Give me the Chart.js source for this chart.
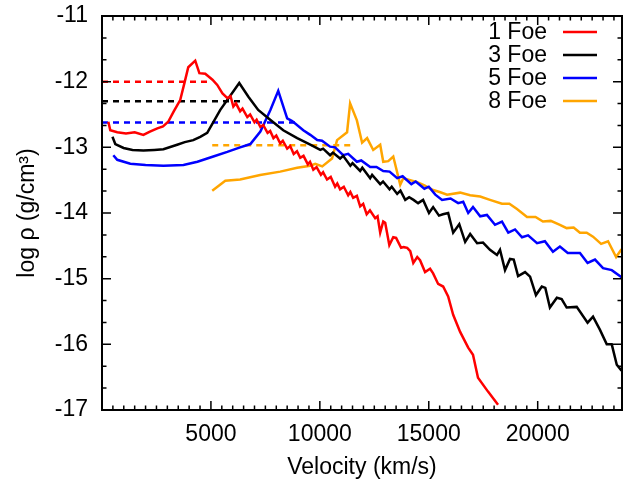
<!DOCTYPE html>
<html>
<head>
<meta charset="utf-8">
<script src="https://cdn.jsdelivr.net/npm/chart.js@4/dist/chart.umd.min.js"></script>
<style>
  html, body { margin: 0; padding: 0; background: #fff; }
  canvas { display: block; }
</style>
</head>
<body>
<canvas id="myChart" width="625" height="483"></canvas>
<script>
// tick labels
const xTicks = [5000, 10000, 15000, 20000];
const yTicks = [-11, -12, -13, -14, -15, -16, -17];

const labels = ["1 Foe", "3 Foe", "5 Foe", "8 Foe"];
const colors = ["#ff0000", "#000000", "#0000ff", "#ffa500"];

// 1 Foe
const vel1 = [290, 380, 700, 1100, 1500, 1900, 2200, 2540, 2800, 3040, 3300, 3590, 3800, 3960, 4280, 4470, 4740, 5070, 5290, 5530, 5760,
  5900, 6030, 6150, 6340, 6450, 6670, 6800, 7000, 7100, 7270, 7400, 7600, 7720, 7870, 8000, 8180, 8300, 8500, 8640, 8800, 8950,
  9100, 9250, 9450, 9550, 9700, 9850, 10050, 10150, 10330, 10500, 10700, 10800, 10930, 11100, 11300, 11400, 11530, 11700, 11850,
  11990, 12150, 12300, 12540, 12650, 12770, 12910, 13000, 13190, 13370, 13500, 13730, 13850, 14010, 14150, 14290, 14470, 14600,
  14830, 15060, 15200, 15430, 15660, 15890, 16120, 16440, 16810, 17030, 17260, 17720, 18180];
const rho1 = [-12.61, -12.74, -12.77, -12.79, -12.77, -12.81, -12.76, -12.71, -12.68, -12.61, -12.45, -12.28, -12.0, -11.78, -11.68, -11.87, -11.88, -11.97, -12.05, -12.18, -12.25,
  -12.22, -12.38, -12.33, -12.45, -12.41, -12.54, -12.50, -12.62, -12.58, -12.69, -12.66, -12.78, -12.75, -12.86, -12.82, -12.94, -12.90, -13.02, -12.98, -13.10, -13.06,
  -13.16, -13.13, -13.26, -13.22, -13.34, -13.30, -13.42, -13.38, -13.49, -13.45, -13.60, -13.55, -13.64, -13.60, -13.73, -13.68, -13.77, -13.74, -13.90,
  -13.86, -14.02, -13.96, -14.08, -14.05, -14.30, -14.13, -14.15, -14.49, -14.37, -14.38, -14.53, -14.52, -14.53, -14.58, -14.76, -14.67, -14.72,
  -14.90, -14.85, -14.92, -15.08, -15.12, -15.27, -15.55, -15.81, -16.05, -16.16, -16.51, -16.72, -16.92];

// 3 Foe
const vel3 = [480, 610, 990, 1400, 1900, 2400, 2820, 3450, 3800, 4190, 4510, 4830, 5430, 6300, 6720, 7170, 7720, 8320, 8960, 9560, 10020,
  10150, 10470, 10600, 10930, 11070, 11400, 11500, 11850, 11950, 12310, 12400, 12770, 12900, 13200, 13300, 13550, 13700, 13920, 14100,
  14300, 14510, 14740, 15010, 15200, 15470, 15650, 15890, 16120, 16400, 16670, 16900, 17220, 17490, 17810, 18130, 18270, 18500, 18730,
  18900, 19100, 19420, 19650, 19920, 20190, 20350, 20560, 20880, 21100, 21330, 21790, 22290, 22540, 22860, 23170, 23400, 23630, 23850];
const rho3 = [-12.84, -12.95, -13.01, -13.04, -13.05, -13.04, -13.03, -12.96, -12.92, -12.89, -12.84, -12.78, -12.43, -12.02, -12.23, -12.43, -12.58, -12.74, -12.86, -12.96, -13.04,
  -13.02, -13.12, -13.08, -13.17, -13.13, -13.28, -13.24, -13.36, -13.31, -13.47, -13.42, -13.56, -13.52, -13.64, -13.60, -13.71, -13.66, -13.80, -13.76,
  -13.80, -13.85, -13.80, -14.00, -13.91, -14.04, -14.02, -14.00, -14.30, -14.17, -14.44, -14.32, -14.46, -14.45, -14.56, -14.64, -14.56, -14.87, -14.70,
  -14.71, -14.96, -14.90, -14.97, -15.25, -15.12, -15.14, -15.44, -15.29, -15.31, -15.44, -15.43, -15.67, -15.58, -15.78, -16.0, -16.0, -16.31, -16.40];

// 5 Foe
const vel5 = [520, 700, 1300, 2000, 2820, 3740, 4380, 5110, 5750, 6340, 6810, 7270, 7730, 8090, 8500, 8730, 9240, 9560, 9880, 10100,
  10470, 10700, 11070, 11300, 11700, 11900, 12310, 12600, 12910, 13200, 13550, 13800, 14200, 14400, 14800, 15000, 15300, 15610, 16000,
  16350, 16580, 16810, 17030, 17360, 17670, 18040, 18360, 18650, 18960, 19280, 19560, 19970, 20330, 20700, 21020, 21380, 21940, 22290,
  22630, 23000, 23400, 23850];
const rho5 = [-13.12, -13.19, -13.25, -13.27, -13.28, -13.27, -13.22, -13.14, -13.07, -13.00, -12.95, -12.76, -12.43, -12.14, -12.56, -12.60, -12.74, -12.81, -12.89, -12.90,
  -12.99, -13.00, -13.12, -13.10, -13.22, -13.20, -13.30, -13.30, -13.36, -13.37, -13.47, -13.44, -13.56, -13.52, -13.63, -13.60, -13.72, -13.80, -13.78,
  -13.85, -13.83, -14.00, -13.91, -14.05, -14.03, -14.18, -14.13, -14.30, -14.25, -14.37, -14.34, -14.46, -14.43, -14.59, -14.51, -14.61, -14.61, -14.76,
  -14.71, -14.84, -14.87, -14.98];

// 8 Foe
const vel8 = [5060, 5660, 6340, 7260, 8180, 8960, 9560, 9790, 10110, 10560, 10790, 11250, 11390, 11700, 11940, 12170, 12450, 12770, 12910,
  13140, 13370, 13690, 13830, 14470, 14800, 15200, 15500, 15840, 16440, 16900, 17360, 17810, 18360, 18700, 19050, 19510, 19900, 20240,
  20600, 21020, 21330, 21650, 21940, 22250, 22540, 22910, 23230, 23600, 23850];
const rho8 = [-13.66, -13.51, -13.49, -13.42, -13.37, -13.31, -13.28, -13.25, -13.29, -13.17, -12.89, -12.77, -12.33, -12.59, -12.93, -12.86, -13.04, -12.96, -13.22,
  -13.21, -13.14, -13.57, -13.47, -13.53, -13.58, -13.65, -13.68, -13.72, -13.69, -13.73, -13.75, -13.80, -13.86, -13.86, -13.94, -14.06, -14.06, -14.13,
  -14.12, -14.18, -14.23, -14.22, -14.30, -14.30, -14.36, -14.47, -14.43, -14.67, -14.55];

// dashed reference levels: [start velocity, end velocity], level
const dashRange = [[0, 4970], [0, 6490], [0, 8870], [5060, 11530]];
const dashLevel = [-12.0, -12.3, -12.62, -12.97];

const vels = [vel1, vel3, vel5, vel8];
const rhos = [rho1, rho3, rho5, rho8];

const datasets = [];
vels.forEach((v, i) => {
  datasets.push({
    label: labels[i],
    data: v.map((x, j) => ({ x: x, y: rhos[i][j] })),
    borderColor: colors[i],
    borderWidth: 2.5,
    pointRadius: 0,
    tension: 0,
    fill: false,
  });
});
dashRange.forEach((r, i) => {
  datasets.push({
    label: "",
    data: r.map((x) => ({ x: x, y: dashLevel[i] })),
    borderColor: colors[i],
    borderWidth: 2.5,
    borderDash: [6, 5],
    pointRadius: 0,
    fill: false,
  });
});

const fontFamily = "'Liberation Sans', Arial, sans-serif";
const fontSize = 23;

// gnuplot-ish frame, inward ticks on all sides, and the key
const frame = {
  id: "frame",
  afterDatasetsDraw(chart) {
    const { ctx, chartArea: a, scales } = chart;
    const xs = scales.x, ys = scales.y;
    ctx.save();
    ctx.strokeStyle = "#000";
    ctx.lineWidth = 1.5;
    ctx.beginPath();
    for (let v = 0; v <= xs.max; v += 500) {
      const px = xs.getPixelForValue(v);
      const len = v % 5000 === 0 ? 9 : 4.5;
      ctx.moveTo(px, a.bottom); ctx.lineTo(px, a.bottom - len);
      ctx.moveTo(px, a.top); ctx.lineTo(px, a.top + len);
    }
    for (let k = 0; k <= 18; k++) {
      const v = -17 + k / 3;
      const py = ys.getPixelForValue(v);
      const len = k % 3 === 0 ? 9 : 4.5;
      ctx.moveTo(a.left, py); ctx.lineTo(a.left + len, py);
      ctx.moveTo(a.right, py); ctx.lineTo(a.right - len, py);
    }
    ctx.stroke();
    ctx.lineWidth = 2;
    ctx.strokeRect(a.left, a.top, a.right - a.left, a.bottom - a.top);

    // key
    ctx.font = fontSize + "px " + fontFamily;
    ctx.textAlign = "right";
    ctx.textBaseline = "middle";
    labels.forEach((t, i) => {
      const yy = a.top + 16 + i * 23;
      ctx.fillStyle = "#000";
      ctx.fillText(t, a.right - 75, yy + 1);
      ctx.strokeStyle = colors[i];
      ctx.lineWidth = 2.5;
      ctx.beginPath();
      ctx.moveTo(a.right - 59, yy);
      ctx.lineTo(a.right - 25, yy);
      ctx.stroke();
    });
    ctx.restore();
  },
};

const noOverflow = (s) => { s.paddingTop = 0; s.paddingBottom = 0; s.paddingLeft = 0; s.paddingRight = 0; };

const config = {
  type: "line",
  data: { datasets: datasets },
  options: {
    responsive: false,
    animation: false,
    devicePixelRatio: 1,
    layout: { padding: { top: 16, right: 3, left: 0, bottom: 0 } },
    plugins: { legend: { display: false }, tooltip: { enabled: false } },
    scales: {
      x: {
        type: "linear",
        min: 0,
        max: 23870,
        grid: { display: false, drawTicks: false },
        border: { display: false },
        afterBuildTicks: (s) => { s.ticks = xTicks.map((v) => ({ value: v })); },
        afterFit: (s) => { s.height = 73; noOverflow(s); },
        ticks: { color: "#000", font: { family: fontFamily, size: fontSize }, padding: 11, maxRotation: 0, callback: (v) => String(v) },
        title: { display: true, text: "Velocity (km/s)", color: "#000", font: { family: fontFamily, size: fontSize }, padding: { top: 0, bottom: 2 } },
      },
      y: {
        type: "linear",
        min: -17,
        max: -11,
        grid: { display: false, drawTicks: false },
        border: { display: false },
        afterBuildTicks: (s) => { s.ticks = yTicks.map((v) => ({ value: v })); },
        afterFit: (s) => { s.width = 102; noOverflow(s); },
        ticks: { color: "#000", font: { family: fontFamily, size: fontSize }, padding: 14, callback: (v) => String(v) },
        title: { display: true, text: "log ρ (g/cm³)", color: "#000", font: { family: fontFamily, size: fontSize }, padding: { top: 14, bottom: 0 } },
      },
    },
  },
  plugins: [frame],
};

var myChart = new Chart(document.getElementById("myChart"), config);
</script>
</body>
</html>
